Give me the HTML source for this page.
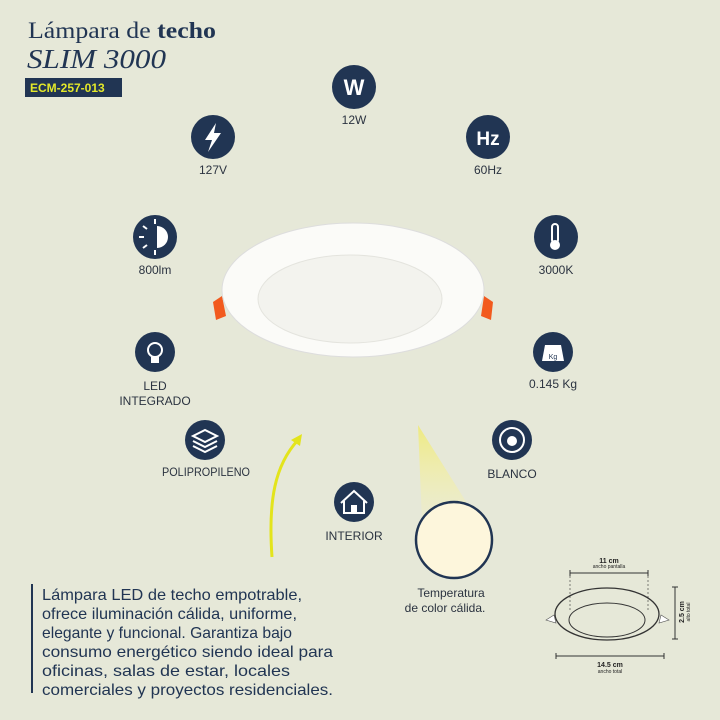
<!DOCTYPE html>
<html><head><meta charset="utf-8"><style>
body{margin:0;background:#e6e8d8;}
svg{display:block}
.t{font-family:"Liberation Sans",sans-serif;font-size:12px;fill:#2b3340;text-anchor:middle}
.ic{fill:#213553}
.w{fill:none;stroke:#fff;stroke-width:2}
</style></head><body>
<svg width="720" height="720" viewBox="0 0 720 720" xmlns="http://www.w3.org/2000/svg">
<rect width="720" height="720" fill="#e6e8d8"/>
<text x="28" y="38" font-family="Liberation Serif,serif" font-size="23" fill="#213553" textLength="188" lengthAdjust="spacingAndGlyphs">Lámpara de <tspan font-weight="bold">techo</tspan></text>
<text x="27" y="68" font-family="Liberation Serif,serif" font-size="27" font-style="italic" fill="#213553" textLength="139" lengthAdjust="spacingAndGlyphs">SLIM 3000</text>
<rect x="25" y="78" width="97" height="19" fill="#213553"/>
<text x="30" y="92" font-family="Liberation Sans,sans-serif" font-size="12" font-weight="bold" fill="#e3e82a">ECM-257-013</text>

<!-- icons -->
<circle class="ic" cx="354" cy="87" r="22"/><text x="354" y="95" font-family="Liberation Sans,sans-serif" font-size="22" font-weight="bold" fill="#fff" text-anchor="middle">W</text>
<text class="t" x="354" y="124">12W</text>
<circle class="ic" cx="213" cy="137" r="22"/><path d="M216 123 L205 140 L212 140 L208 152 L221 133 L214 133 Z" fill="#fff"/>
<text class="t" x="213" y="174">127V</text>
<circle class="ic" cx="488" cy="137" r="22"/><text x="488" y="145" font-family="Liberation Sans,sans-serif" font-size="19" font-weight="bold" fill="#fff" text-anchor="middle">Hz</text>
<text class="t" x="488" y="174">60Hz</text>
<circle class="ic" cx="155" cy="237" r="22"/><path d="M157 226 A11 11 0 0 1 157 248 Z" fill="#fff"/><g stroke="#fff" stroke-width="2"><line x1="155" y1="219" x2="155" y2="224"/><line x1="155" y1="250" x2="155" y2="255"/><line x1="139" y1="237" x2="144" y2="237"/><line x1="143" y1="226" x2="147" y2="229"/><line x1="143" y1="248" x2="147" y2="245"/></g>
<text class="t" x="155" y="274">800lm</text>
<circle class="ic" cx="556" cy="237" r="22"/><rect x="552" y="224" width="6" height="19" rx="3" fill="none" stroke="#fff" stroke-width="2"/><circle cx="555" cy="245" r="5" fill="#fff"/>
<text class="t" x="556" y="274">3000K</text>
<circle class="ic" cx="155" cy="352" r="20"/><circle cx="155" cy="350" r="7" class="w"/><rect x="151" y="357" width="8" height="6" fill="#fff"/>
<text class="t" x="155" y="390">LED</text><text class="t" x="155" y="405">INTEGRADO</text>
<circle class="ic" cx="553" cy="352" r="20"/><path d="M545 345 h16 l3 16 h-22 Z" fill="#fff"/><text x="553" y="359" font-family="Liberation Sans,sans-serif" font-size="7" fill="#213553" text-anchor="middle">Kg</text>
<text class="t" x="553" y="388">0.145 Kg</text>
<circle class="ic" cx="205" cy="440" r="20"/><g class="w"><path d="M193 436 L205 430 L217 436 L205 442 Z"/><path d="M193 441 L205 447 L217 441"/><path d="M193 446 L205 452 L217 446"/></g>
<text class="t" x="206" y="476" textLength="88" lengthAdjust="spacingAndGlyphs">POLIPROPILENO</text>
<circle class="ic" cx="512" cy="440" r="20"/><circle cx="512" cy="440" r="12" class="w"/><circle cx="512" cy="441" r="5" fill="#fff"/>
<text class="t" x="512" y="478">BLANCO</text>
<circle class="ic" cx="354" cy="502" r="20"/><path d="M341 503 L354 491 L367 503 M344 501 V513 H364 V501" class="w"/><rect x="351" y="505" width="6" height="8" fill="#fff"/>
<text class="t" x="354" y="540">INTERIOR</text>

<!-- lamp -->
<path d="M213 302 L222 296 L226 316 L216 320 Z" fill="#f25a1e"/>
<path d="M493 302 L484 296 L481 316 L491 320 Z" fill="#f25a1e"/>
<ellipse cx="353" cy="290" rx="131" ry="67" fill="#fbfbf8" stroke="#ddd" stroke-width="1"/>
<ellipse cx="350" cy="299" rx="92" ry="44" fill="#f3f3ee" stroke="#e4e4de"/>

<!-- arrow -->
<path d="M272 557 C268 500 275 465 298 440" fill="none" stroke="#e3e41c" stroke-width="3"/>
<path d="M302 434 L291 440 L300 446 Z" fill="#e3e41c"/>
<!-- beam -->
<defs><linearGradient id="g" x1="0" y1="0" x2="0" y2="1"><stop offset="0" stop-color="#eeea80"/><stop offset="1" stop-color="#f5f1c0" stop-opacity="0.3"/></linearGradient></defs>
<path d="M418 425 L470 508 L422 522 Z" fill="url(#g)"/>
<circle cx="454" cy="540" r="38" fill="#fdf6dc" stroke="#213553" stroke-width="2.5"/>
<text class="t" x="451" y="597" font-size="12.5">Temperatura</text>
<text class="t" x="445" y="612" font-size="12.5">de color cálida.</text>

<!-- description -->
<line x1="32" y1="584" x2="32" y2="693" stroke="#213553" stroke-width="2"/>
<g font-family="Liberation Sans,sans-serif" font-size="16" fill="#213553" lengthAdjust="spacingAndGlyphs">
<text x="42" y="600" textLength="260" lengthAdjust="spacingAndGlyphs">Lámpara LED de techo empotrable,</text>
<text x="42" y="619" textLength="255" lengthAdjust="spacingAndGlyphs">ofrece iluminación cálida, uniforme,</text>
<text x="42" y="638" textLength="250" lengthAdjust="spacingAndGlyphs">elegante y funcional. Garantiza bajo</text>
<text x="42" y="657" textLength="291" lengthAdjust="spacingAndGlyphs">consumo energético siendo ideal para</text>
<text x="42" y="676" textLength="248" lengthAdjust="spacingAndGlyphs">oficinas, salas de estar, locales</text>
<text x="42" y="695" textLength="291" lengthAdjust="spacingAndGlyphs">comerciales y proyectos residenciales.</text>
</g>

<!-- dimension -->
<g stroke="#333" fill="none">
<line x1="570" y1="573" x2="648" y2="573"/><line x1="570" y1="570" x2="570" y2="576"/><line x1="648" y1="570" x2="648" y2="576"/>
<line x1="570" y1="576" x2="570" y2="610" stroke-dasharray="2 2" stroke-width="0.6"/><line x1="648" y1="576" x2="648" y2="610" stroke-dasharray="2 2" stroke-width="0.6"/>
<ellipse cx="607" cy="614" rx="52" ry="26" stroke-width="1.3"/>
<ellipse cx="607" cy="620" rx="38" ry="17"/>
<line x1="675" y1="587" x2="675" y2="639"/><line x1="672" y1="587" x2="678" y2="587"/><line x1="672" y1="639" x2="678" y2="639"/>
<line x1="556" y1="656" x2="664" y2="656"/><line x1="556" y1="653" x2="556" y2="659"/><line x1="664" y1="653" x2="664" y2="659"/>
</g>
<path d="M546 620 l8 -5 l2 8 Z M669 620 l-8 -5 l-2 8 Z" fill="#fff" stroke="#555" stroke-width="0.6"/>
<g font-family="Liberation Sans,sans-serif" text-anchor="middle" fill="#222">
<text x="609" y="563" font-size="7" font-weight="bold">11 cm</text>
<text x="609" y="568" font-size="5">ancho pantalla</text>
<text x="610" y="667" font-size="7" font-weight="bold">14.5 cm</text>
<text x="610" y="673" font-size="5">ancho total</text>
<text transform="translate(684 612) rotate(-90)" font-size="7" font-weight="bold">2.5 cm</text>
<text transform="translate(690 612) rotate(-90)" font-size="5">alto total</text>
</g>
</svg>
</body></html>
